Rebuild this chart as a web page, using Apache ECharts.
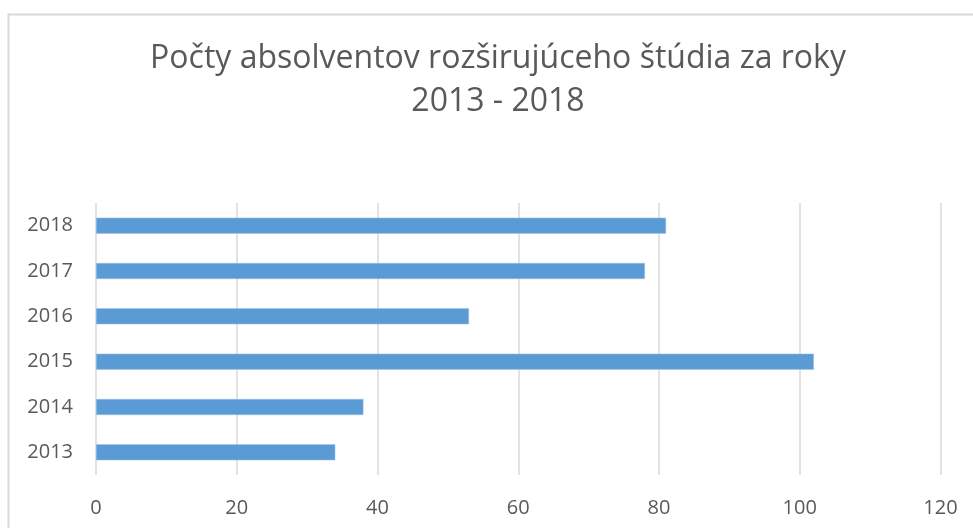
<!DOCTYPE html>
<html><head><meta charset="utf-8">
<script src="https://cdn.jsdelivr.net/npm/echarts@6/dist/echarts.min.js"></script>
<style>html,body{margin:0;padding:0;background:#fff}#c{width:973px;height:528px}</style>
</head><body><div id="c"></div>
<script>
const categories = ['2013','2014','2015','2016','2017','2018'];
const values = [34, 38, 102, 53, 78, 81];
const titleText = 'Počty absolventov rozširujúceho štúdia za roky\n2013 - 2018';
const chart = echarts.init(document.getElementById('c'));
const font = 'Open Sans';
chart.setOption({
  animation: false,
  graphic: [
    { type: 'rect', shape: { x: 8.5, y: 14.5, width: 1000, height: 600 }, style: { fill: 'none', stroke: '#d9d9d9', lineWidth: 2 } },
    { type: 'text', x: 498, y: 37, style: { text: titleText, fontFamily: font, fontSize: 32, fill: '#595959', lineHeight: 43, align: 'center', verticalAlign: 'top' } }
  ],
  grid: { left: 96, right: 32.5, top: 203, bottom: 53, containLabel: false },
  xAxis: {
    type: 'value', min: 0, max: 120, interval: 20,
    axisLine: { show: false }, axisTick: { show: false },
    splitLine: { lineStyle: { color: '#d9d9d9', width: 1.5 } },
    axisLabel: { fontFamily: font, fontSize: 20, color: '#595959', margin: 23 }
  },
  yAxis: {
    type: 'category', data: categories,
    axisLine: { show: false }, axisTick: { show: false },
    axisLabel: { fontFamily: font, fontSize: 20, color: '#595959', margin: 23 }
  },
  series: [{
    type: 'bar', data: values, barWidth: 16,
    itemStyle: { color: '#5b9bd5', borderColor: '#9dc3e6', borderWidth: 0.5 }
  }]
});
</script></body></html>
